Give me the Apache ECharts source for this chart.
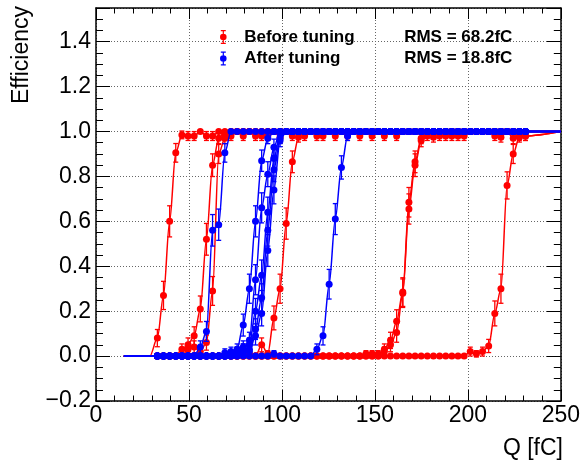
<!DOCTYPE html>
<html><head><meta charset="utf-8">
<script src="https://cdn.jsdelivr.net/npm/echarts@6/dist/echarts.min.js"></script>
<style>html,body{margin:0;padding:0;background:#fff}#c{width:583px;height:465px}</style>
</head><body><div id="c"></div>
<script>
// Injected charge scan points (fC)
const qGrid = [
  33, 36.3, 39.6, 42.9, 46.2, 49.5, 52.8, 56.1, 59.4, 62.7,
  66, 69.3, 72.6, 75.9, 79.2, 82.5, 85.8, 89.1, 92.4, 95.7,
  99, 102.3, 105.6, 108.9, 112.2, 115.5, 118.8, 122.1, 125.4, 128.7,
  132, 135.3, 138.6, 141.9, 145.2, 148.5, 151.8, 155.1, 158.4, 161.7,
  165, 168.3, 171.6, 174.9, 178.2, 181.5, 184.8, 188.1, 191.4, 194.7,
  198, 201.3, 204.6, 207.9, 211.2, 214.5, 217.8, 221.1, 224.4, 227.7,
  231];
const fitRange = [15, 250];
const fitLevels = [0, 1];
const nEvents = 50;
// x where each fitted curve leaves zero (only where it lies before the first scan point)
const beforeFitStart = [29, null, null, null, null, null, null];
const afterFitStart = [null, null, null, null, null, null, null];

// Before tuning (red)
const beforeCh1 = [
  0.08, 0.27, 0.60, 0.905, 0.985, 0.98, 0.98, 1, 0.98, 0.98,
  1, 0.98, 1, 1, 0.98, 1, 1, 0.98, 1, 1,
  0.975, 1, 1, 1, 0.98, 1, 1, 0.98, 1, 1,
  1, 0.98, 1, 1, 1, 0.98, 1, 1, 1, 0.98,
  1, 1, 1, 1, 1, 1, 0.98, 1, 0.98, 1,
  1, 1, 1, 1, 1, 0.98, 1, 1, 1, 0.98,
  1];
const beforeCh2 = [
  0, 0, 0, 0, 0.03, 0.05, 0.09, 0.21, 0.52, 0.85,
  0.97, 1, 0.98, 1, 1, 1, 0.98, 1, 1, 1,
  1, 1, 0.98, 1, 1, 1, 0.98, 1, 1, 1,
  1, 1, 1, 0.98, 1, 1, 1, 1, 1, 1,
  1, 1, 1, 1, 1, 0.975, 1, 1, 1, 1,
  0.98, 1, 1, 1, 1, 1, 0.975, 1, 1, 1,
  0.98];
const beforeCh3 = [
  0, 0, 0, 0, 0, 0.03, 0.04, 0.02, 0.06, 0.29,
  0.9, 0.97, 1, 1, 1, 1, 1, 1, 0.98, 1,
  1, 1, 1, 1, 1, 1, 1, 1, 1, 1,
  1, 1, 1, 1, 1, 1, 1, 1, 1, 1,
  1, 1, 1, 1, 1, 1, 1, 1, 1, 1,
  1, 1, 1, 1, 1, 1, 1, 1, 1, 1,
  1];
const beforeCh4 = [
  0, 0, 0, 0, 0, 0, 0, 0, 0, 0,
  0, 0, 0, 0, 0, 0.01, 0, 0.05, 0.01, 0.17,
  0.30, 0.59, 0.865, 0.975, 1, 1, 1, 1, 1, 0.98,
  1, 1, 1, 1, 1, 1, 1, 0.98, 1, 1,
  1, 1, 1, 1, 1, 1, 1, 0.98, 1, 1,
  1, 1, 1, 1, 1, 1, 1, 1, 1, 1,
  1];
const beforeCh5 = [
  0, 0, 0, 0, 0, 0, 0, 0, 0, 0,
  0, 0, 0, 0, 0, 0, 0, 0, 0, 0,
  0, 0, 0, 0, 0, 0, 0, 0, 0, 0,
  0, 0, 0, 0, 0.01, 0.01, 0, 0.03, 0.07, 0.155,
  0.285, 0.685, 0.865, 0.97, 1, 1, 1, 1, 1, 1,
  1, 1, 1, 1, 1, 1, 1, 1, 1, 1,
  1];
const beforeCh6 = [
  0, 0, 0, 0, 0, 0, 0, 0, 0, 0,
  0, 0, 0, 0, 0, 0, 0, 0, 0, 0,
  0, 0, 0, 0, 0, 0, 0, 0, 0, 0,
  0, 0, 0, 0, 0, 0, 0.01, 0.02, 0.05, 0.105,
  0.28, 0.655, 0.85, 0.96, 0.98, 1, 1, 1, 1, 0.98,
  1, 1, 1, 1, 1, 1, 1, 1, 0.97, 1,
  1];
const beforeCh7 = [
  0, 0, 0, 0, 0, 0, 0, 0, 0, 0,
  0, 0, 0, 0, 0, 0, 0, 0, 0, 0,
  0, 0, 0, 0, 0, 0, 0, 0, 0, 0,
  0, 0, 0, 0, 0, 0, 0, 0, 0, 0,
  0, 0, 0, 0, 0, 0, 0, 0, 0, 0,
  0, 0.02, 0.01, 0.02, 0.045, 0.19, 0.30, 0.76, 0.90, 0.975,
  0.98];

// After tuning (blue)
const afterCh1 = [
  0, 0, 0, 0, 0, 0, 0, 0.04, 0.11, 0.56,
  0.585, 0.905, 1, 1, 1, 1, 1, 1, 1, 1,
  1, 1, 1, 1, 1, 1, 1, 1, 1, 1,
  1, 1, 1, 1, 1, 1, 1, 1, 1, 1,
  1, 1, 1, 1, 1, 1, 1, 1, 1, 1,
  1, 1, 1, 1, 1, 1, 1, 1, 1, 1,
  1];
const afterCh2 = [
  0, 0, 0, 0, 0, 0, 0, 0, 0, 0,
  0, 0, 0.01, 0.03, 0.138, 0.30, 0.60, 0.87, 0.97, 1,
  1, 1, 1, 1, 1, 1, 1, 1, 1, 1,
  1, 1, 1, 1, 1, 1, 1, 1, 1, 1,
  1, 1, 1, 1, 1, 1, 1, 1, 1, 1,
  1, 1, 1, 1, 1, 1, 1, 1, 1, 1,
  1];
const afterCh3 = [
  0, 0, 0, 0, 0, 0, 0, 0, 0, 0,
  0, 0, 0, 0.01, 0.03, 0.07, 0.34, 0.66, 0.81, 0.93,
  1, 1, 1, 1, 1, 1, 1, 1, 1, 1,
  1, 1, 1, 1, 1, 1, 1, 1, 1, 1,
  1, 1, 1, 1, 1, 1, 1, 1, 1, 1,
  1, 1, 1, 1, 1, 1, 1, 1, 1, 1,
  1];
const afterCh4 = [
  0, 0, 0, 0, 0, 0, 0, 0, 0, 0,
  0, 0, 0.02, 0.02, 0.03, 0.02, 0.09, 0.19, 0.47, 0.74,
  0.96, 1, 1, 1, 1, 1, 1, 1, 1, 1,
  1, 1, 1, 1, 1, 1, 1, 1, 1, 1,
  1, 1, 1, 1, 1, 1, 1, 1, 1, 1,
  1, 1, 1, 1, 1, 1, 1, 1, 1, 1,
  1];
const afterCh5 = [
  0, 0, 0, 0, 0, 0, 0, 0, 0, 0,
  0, 0, 0, 0, 0.01, 0.03, 0.12, 0.26, 0.56, 0.83,
  0.97, 1, 1, 1, 1, 1, 1, 1, 1, 1,
  1, 1, 1, 1, 1, 1, 1, 1, 1, 1,
  1, 1, 1, 1, 1, 1, 1, 1, 1, 1,
  1, 1, 1, 1, 1, 1, 1, 1, 1, 1,
  1];
const afterCh6 = [
  0, 0, 0, 0, 0, 0, 0, 0, 0, 0,
  0, 0.015, 0.01, 0.02, 0.04, 0.05, 0.2, 0.36, 0.64, 0.88,
  0.99, 1, 1, 1, 1, 1, 1, 1, 1, 1,
  1, 1, 1, 1, 1, 1, 1, 1, 1, 1,
  1, 1, 1, 1, 1, 1, 1, 1, 1, 1,
  1, 1, 1, 1, 1, 1, 1, 1, 1, 1,
  1];
const afterCh7 = [
  0, 0, 0, 0, 0, 0, 0, 0, 0, 0,
  0, 0, 0, 0, 0, 0, 0, 0, 0, 0.01,
  0, 0, 0, 0, 0, 0, 0.03, 0.09, 0.32, 0.61,
  0.84, 0.98, 1, 1, 1, 1, 1, 1, 1, 1,
  1, 1, 1, 1, 1, 1, 1, 1, 1, 1,
  1, 1, 1, 1, 1, 1, 1, 1, 1, 1,
  1];

const legendNames = ['Before tuning', 'After tuning'];
const legendRms = ['RMS = 68.2fC', 'RMS = 18.8fC'];
const xTicks = [0, 50, 100, 150, 200, 250];
const yTicks = [-0.2, 0, 0.2, 0.4, 0.6, 0.8, 1.0, 1.2, 1.4];

const beforeCurves = [beforeCh1, beforeCh2, beforeCh3, beforeCh4, beforeCh5, beforeCh6, beforeCh7];
const afterCurves = [afterCh1, afterCh2, afterCh3, afterCh4, afterCh5, afterCh6, afterCh7];

const RED = '#ff0000', BLUE = '#0000ff';
const FONT = 'Liberation Sans';

function curveSeries(vals, fitStart, color, name, z) {
  const data = [{value: [fitRange[0], fitLevels[0]], symbol: 'none'}];
  if (fitStart != null) data.push({value: [fitStart, fitLevels[0]], symbol: 'none'});
  qGrid.forEach((q, i) => data.push([q, vals[i]]));
  data.push({value: [fitRange[1], fitLevels[1]], symbol: 'none'});
  return {
    type: 'line', name, data, z, animation: false,
    smooth: 0.3, smoothMonotone: 'x',
    symbol: 'circle', symbolSize: 7, showAllSymbol: true,
    lineStyle: {color, width: 1.5},
    itemStyle: {color, borderWidth: 0},
    emphasis: {disabled: true}
  };
}
function errorSeries(curves, color, z) {
  const data = [];
  curves.forEach(vals => vals.forEach((p, i) => {
    if (p > 0 && p < 1) {
      const e = Math.sqrt(p * (1 - p) / nEvents);
      data.push([qGrid[i], p - e, p + e]);
    }
  }));
  return {
    type: 'custom', name: 'errors', data, z, animation: false,
    encode: {x: 0, y: [1, 2]},
    renderItem: (params, api) => {
      const x = api.value(0);
      const lo = api.coord([x, api.value(1)]);
      const hi = api.coord([x, api.value(2)]);
      const cw = 2.5, st = {stroke: color, lineWidth: 1.3};
      return {type: 'group', children: [
        {type: 'line', shape: {x1: lo[0], y1: lo[1], x2: hi[0], y2: hi[1]}, style: st},
        {type: 'line', shape: {x1: lo[0] - cw, y1: lo[1], x2: lo[0] + cw, y2: lo[1]}, style: st},
        {type: 'line', shape: {x1: hi[0] - cw, y1: hi[1], x2: hi[0] + cw, y2: hi[1]}, style: st}
      ]};
    }
  };
}

const series = [];
series.push(errorSeries(beforeCurves, RED, 2));
beforeCurves.forEach((c, i) => series.push(curveSeries(c, beforeFitStart[i], RED, legendNames[0], 3)));
series.push(errorSeries(afterCurves, BLUE, 4));
afterCurves.forEach((c, i) => series.push(curveSeries(c, afterFitStart[i], BLUE, legendNames[1], 5)));

const gridLine = {show: true, lineStyle: {color: '#666', type: [1, 2], width: 1}};
const xMin = xTicks[0], xMax = xTicks[xTicks.length - 1], xStep = xTicks[1] - xTicks[0];
const yMin = yTicks[0], yMax = 1.55, yStep = 0.2;
function xAx(pos, interval, len, main) {
  return {
    type: 'value', position: pos, min: xMin, max: xMax, interval,
    axisLine: {show: main, onZero: false, lineStyle: {color: '#000', width: 1.5}},
    axisTick: {show: true, inside: true, length: len, lineStyle: {color: '#000', width: 1}},
    axisLabel: {show: main && pos === 'bottom', fontFamily: FONT, fontSize: 23, color: '#000', margin: 3,
      formatter: v => String(Math.round(v))},
    splitLine: main && pos === 'bottom' ? gridLine : {show: false}
  };
}
function yAx(pos, interval, len, main) {
  return {
    type: 'value', position: pos, min: yMin, max: yMax, interval,
    axisLine: {show: main, onZero: false, lineStyle: {color: '#000', width: 1.5}},
    axisTick: {show: true, inside: true, length: len, lineStyle: {color: '#000', width: 1}},
    axisLabel: {show: main && pos === 'left', fontFamily: FONT, fontSize: 23, color: '#000', margin: 5,
      formatter: v => v > 1.45 ? '' : (v < -1e-9 ? '\u2212' + Math.abs(v).toFixed(1) : Math.abs(v).toFixed(1))},
    splitLine: main && pos === 'left' ? gridLine : {show: false}
  };
}

const legendIcon = 'path://M2.5,0H7.5V1.2H5.6V12.8H7.5V14H2.5V12.8H4.4V1.2H2.5Z' +
  'M1.7,7A3.3,3.3,0,1,1,8.3,7A3.3,3.3,0,1,1,1.7,7ZM20,7Z';

const chart = echarts.init(document.getElementById('c'));
chart.setOption({
  animation: false,
  backgroundColor: '#fff',
  grid: {left: 96, right: 21, top: 8, bottom: 64},
  xAxis: [xAx('bottom', xStep, 11, true), xAx('bottom', 10, 5.5, false),
          xAx('top', xStep, 11, true), xAx('top', 10, 5.5, false)],
  yAxis: [yAx('left', yStep, 14, true), yAx('left', 0.05, 7, false),
          yAx('right', yStep, 14, true), yAx('right', 0.05, 7, false)],
  legend: {
    data: legendNames, orient: 'vertical', left: 215, top: 22,
    itemWidth: 20, itemHeight: 14, itemGap: 1.5, selectedMode: false,
    icon: legendIcon, itemStyle: {borderWidth: 0},
    formatter: name => '{n|' + name + '}{r|' + legendRms[legendNames.indexOf(name)] + '}',
    textStyle: {
      fontFamily: FONT, fontWeight: 'bold', fontSize: 17, color: '#000', lineHeight: 20,
      rich: {
        n: {width: 160, fontFamily: FONT, fontWeight: 'bold', fontSize: 17, color: '#000'},
        r: {fontFamily: FONT, fontWeight: 'bold', fontSize: 17, color: '#000'}
      }
    }
  },
  graphic: [
    {type: 'text', x: 22, y: 55, rotation: Math.PI / 2,
      style: {text: 'Efficiency', font: '23px "Liberation Sans"', fill: '#000', align: 'center', verticalAlign: 'middle'}},
    {type: 'text', x: 563, y: 449,
      style: {text: 'Q [fC]', font: '23px "Liberation Sans"', fill: '#000', align: 'right', verticalAlign: 'middle'}}
  ],
  series
});
</script></body></html>
